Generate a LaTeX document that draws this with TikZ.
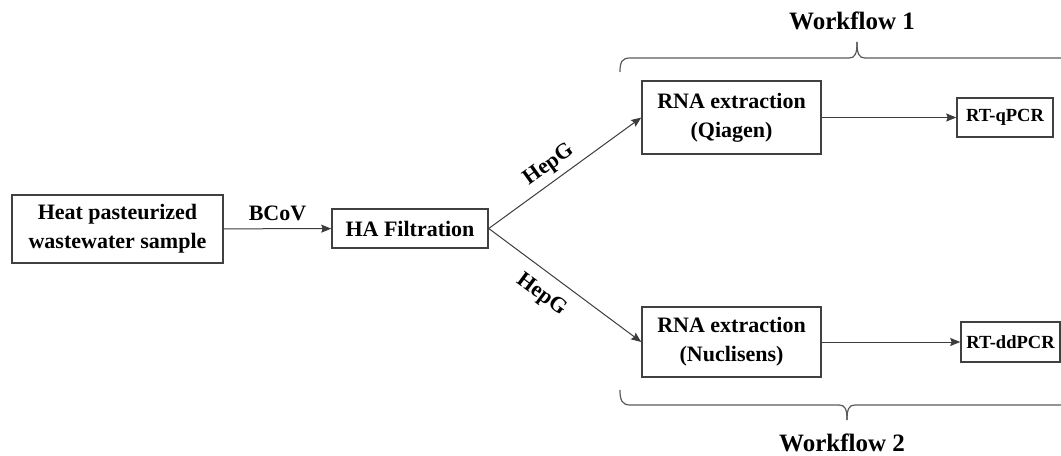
\documentclass[tikz,border=0pt]{standalone}
\usepackage{fontspec}
\setmainfont{Liberation Serif}
\usetikzlibrary{arrows.meta}

\tikzset{every picture/.style={line width=0.75pt}}
\tikzset{
	stagebox/.style={draw={rgb, 255:red, 64; green, 64; blue, 64}, line width=1.1pt, inner sep=0pt, align=center, font=\bfseries\fontsize{16.5}{22}\selectfont},
	assaybox/.style={stagebox, font=\bfseries\fontsize{13.9}{16}\selectfont},
	flowarrow/.style={draw={rgb, 255:red, 60; green, 60; blue, 60}, -{Stealth[length=7.5pt,width=6pt,inset=1pt]}},
	edgelabel/.style={font=\bfseries\fontsize{16.5}{20}\selectfont},
	bracepath/.style={draw={rgb, 255:red, 90; green, 90; blue, 90}, line width=0.9pt},
	workflowlabel/.style={font=\bfseries\fontsize{18.75}{22}\selectfont}}

\begin{document}
\begin{tikzpicture}[x=0.75pt,y=0.75pt,yscale=-1,xscale=1]
	\useasboundingbox (0,0) rectangle (1061,456);

	%Shape: Rectangle [id:heat]
	\node [stagebox, minimum width=158.25pt, minimum height=51pt] (heat) at (117.5,229) {Heat pasteurized\\wastewater sample};
	%Shape: Rectangle [id:hafilt]
	\node [stagebox, minimum width=117pt, minimum height=29.25pt] (hafilt) at (410,228.5) {HA Filtration};
	%Shape: Rectangle [id:rnaqiagen]
	\node [stagebox, minimum width=134.25pt, minimum height=54.75pt] (rnaqiagen) at (731.5,117.5) {RNA extraction\\(Qiagen)};
	%Shape: Rectangle [id:rnanuclisens]
	\node [stagebox, minimum width=134.25pt, minimum height=52.5pt] (rnanuclisens) at (731.5,342) {RNA extraction\\(Nuclisens)};
	%Shape: Rectangle [id:qpcr]
	\node [assaybox, minimum width=72pt, minimum height=29.25pt] (qpcr) at (1005,117.5) {RT-qPCR};
	%Shape: Rectangle [id:ddpcr]
	\node [assaybox, minimum width=74.25pt, minimum height=30pt] (ddpcr) at (1010.5,342) {RT-ddPCR};

	%Straight Lines [id:bcov]
	\draw [flowarrow] (heat) -- node [edgelabel, above=2pt] (bcov) {BCoV} (hafilt);
	%Straight Lines [id:hepgup]
	\draw [flowarrow] (hafilt.east) -- node [edgelabel, pos=0.45, above=1pt, rotate=35.8] (hepgup) {HepG} (rnaqiagen.west);
	%Straight Lines [id:hepgdown]
	\draw [flowarrow] (hafilt.east) -- node [edgelabel, pos=0.40, below=7pt, rotate=-36.4] (hepgdown) {HepG} (rnanuclisens.west);
	%Straight Lines [id:toqpcr]
	\draw [flowarrow] (rnaqiagen) -- (qpcr);
	%Straight Lines [id:toddpcr]
	\draw [flowarrow] (rnanuclisens) -- (ddpcr);

	%Shape: Brace [id:braceone]
	\draw [bracepath] (620,72) .. controls (620,62) and (622,58) .. (630,58) -- (849,58) .. controls (855,58) and (857,54) .. (857,42) ;
	\draw [bracepath] (857,42) .. controls (857,54) and (859,58) .. (865,58) -- (1061,58) ;
	%Shape: Brace [id:bracetwo]
	\draw [bracepath] (620,390) .. controls (620,400) and (622,405) .. (630,405) -- (839,405) .. controls (845,405) and (847,409) .. (847,420) ;
	\draw [bracepath] (847,420) .. controls (847,409) and (849,405) .. (855,405) -- (1061,405) ;

	% Text Node
	\node [workflowlabel] (workflowone) at (852,21) {Workflow 1};
	% Text Node
	\node [workflowlabel] (workflowtwo) at (842,443) {Workflow 2};

\end{tikzpicture}
\end{document}
